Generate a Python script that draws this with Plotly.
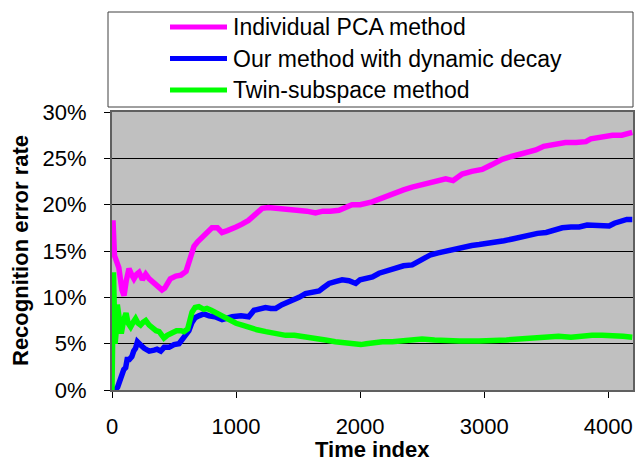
import plotly.graph_objects as go

# ---- data -------------------------------------------------------------
series_names = [
    "Individual PCA method",
    "Our method with dynamic decay",
    "Twin-subspace method",
]
series_colors = ["#FF00FF", "#0000FF", "#00FF00"]

pca_x = [0, 8, 20, 35, 55, 80, 97, 115, 137, 160, 177, 200, 218, 245, 272, 300,
         326, 363, 403, 425, 444, 470, 515, 556, 597, 620, 637, 661, 690, 715,
         768, 806, 850, 887, 930, 968, 1000, 1048, 1100, 1160, 1210, 1260, 1345,
         1420, 1508, 1570, 1640, 1700, 1760, 1830, 1935, 2000, 2097, 2153, 2200,
         2290, 2350, 2420, 2490, 2556, 2620, 2690, 2750, 2823, 2900, 2984, 3060,
         3145, 3220, 3282, 3350, 3417, 3480, 3550, 3655, 3740, 3820, 3860, 3900,
         3970, 4035, 4110, 4194]
pca_y = [16.5, 18.3, 14.5, 13.8, 13.2, 10.8, 10.2, 11.8, 13.1, 12.4, 12.0, 12.5,
         12.7, 11.9, 12.5, 12.0, 11.7, 11.3, 10.8, 11.0, 11.5, 12.0, 12.3, 12.4,
         12.8, 13.8, 14.5, 15.5, 16.0, 16.3, 16.9, 17.5, 17.5, 17.0, 17.2, 17.5,
         17.6, 17.9, 18.3, 19.0, 19.6, 19.7, 19.6, 19.5, 19.4, 19.3, 19.1, 19.3,
         19.3, 19.4, 20.0, 20.0, 20.3, 20.6, 20.9, 21.4, 21.6, 21.9, 22.1, 22.4,
         22.6, 22.8, 22.6, 23.3, 23.6, 23.8, 24.3, 24.9, 25.2, 25.4, 25.6, 25.9,
         26.3, 26.5, 26.7, 26.7, 26.8, 27.1, 27.2, 27.4, 27.5, 27.5, 27.8]

decay_x = [10, 25, 45, 60, 70, 95, 110, 122, 140, 160, 175, 190, 205, 218, 235,
           260, 300, 340, 363, 393, 420, 460, 500, 540, 580, 620, 645, 670, 700,
           740, 782, 830, 887, 930, 968, 1040, 1102, 1145, 1190, 1237, 1280, 1320,
           1370, 1425, 1470, 1508, 1560, 1613, 1670, 1700, 1750, 1800, 1855, 1910,
           1965, 2000, 2046, 2100, 2153, 2200, 2290, 2350, 2420, 2490, 2530, 2570,
           2630, 2690, 2760, 2823, 2900, 2960, 3030, 3097, 3160, 3228, 3300, 3363,
           3430, 3500, 3560, 3630, 3700, 3766, 3830, 3900, 3960, 4008, 4050, 4090,
           4150, 4194]
decay_y = [0.0, 0.0, 0.3, 1.0, 1.5, 2.2, 2.4, 3.3, 3.3, 3.6, 4.2, 4.5, 5.2, 5.1,
           4.8, 4.5, 4.2, 4.3, 4.4, 4.2, 4.6, 4.6, 4.9, 5.0, 5.6, 6.4, 7.3, 7.8,
           8.0, 8.2, 8.0, 7.9, 7.6, 7.8, 7.9, 8.0, 7.9, 8.6, 8.8, 8.9, 8.8, 8.8,
           9.2, 9.5, 9.8, 10.0, 10.4, 10.6, 10.7, 11.0, 11.5, 11.7, 11.9, 11.8,
           11.5, 11.9, 12.1, 12.2, 12.6, 12.8, 13.3, 13.4, 13.5, 14.0, 14.4, 14.6,
           14.8, 15.0, 15.1, 15.3, 15.6, 15.7, 15.8, 15.9, 16.1, 16.3, 16.5, 16.8,
           16.9, 17.0, 17.3, 17.5, 17.6, 17.6, 17.8, 17.8, 17.7, 17.7, 18.0, 18.2,
           18.4, 18.4]

twin_x = [0, 6, 12, 18, 25, 32, 43, 60, 75, 95, 113, 130, 150, 170, 190, 210,
          230, 250, 272, 300, 326, 355, 380, 405, 419, 445, 470, 520, 556, 580,
          610, 630, 645, 670, 700, 740, 765, 800, 840, 887, 940, 1000, 1050, 1105,
          1170, 1240, 1320, 1400, 1470, 1535, 1620, 1720, 1800, 1855, 1930, 2005,
          2050, 2097, 2180, 2260, 2315, 2400, 2500, 2600, 2690, 2800, 2960, 3080,
          3180, 3280, 3363, 3430, 3500, 3600, 3700, 3766, 3870, 3950, 4035, 4120,
          4194]
twin_y = [0.0, 6.0, 12.7, 9.0, 5.0, 6.0, 9.2, 7.0, 6.1, 7.6, 8.3, 7.2, 6.8, 7.3,
          7.7, 7.2, 7.0, 7.3, 7.5, 7.0, 6.7, 6.4, 6.3, 5.8, 5.6, 5.9, 6.1, 6.4,
          6.4, 6.3, 6.6, 7.4, 8.4, 8.9, 9.0, 8.7, 8.8, 8.6, 8.3, 7.9, 7.5, 7.2,
          7.0, 6.7, 6.5, 6.3, 6.1, 5.9, 5.9, 5.8, 5.7, 5.4, 5.2, 5.1, 5.0, 4.9,
          5.0, 5.1, 5.2, 5.2, 5.3, 5.4, 5.5, 5.4, 5.3, 5.3, 5.3, 5.3, 5.4, 5.5,
          5.6, 5.7, 5.8, 5.8, 5.7, 5.8, 5.9, 5.9, 5.9, 5.8, 5.7]

x_ticks = [0, 1000, 2000, 3000, 4000]
y_ticks = [0, 0.05, 0.10, 0.15, 0.20, 0.25, 0.30]
x_title = "Time index"
y_title = "Recognition error rate"

# ---- figure geometry (pixels) ----------------------------------------
W, H = 635, 463
PL, PR, PT, PB = 112, 633, 112, 390   # plot area edges
FONT = "Arial, Liberation Sans, sans-serif"
TICK_SIZE = 22
TITLE_SIZE = 22
LEGEND_SIZE = 23


def px_to_paper(px, py):
    return (px - PL) / (PR - PL), (PB - py) / (PB - PT)


fig = go.Figure()
for name, color, xs, ys in zip(
    series_names, series_colors,
    [pca_x, decay_x, twin_x], [pca_y, decay_y, twin_y],
):
    fig.add_trace(go.Scatter(
        x=xs, y=[v / 100 for v in ys], mode="lines", name=name,
        line=dict(color=color, width=5.5), showlegend=False,
    ))

# ---- legend box drawn above the plot ----------------------------------
shapes, annotations = [], []
bx0, by0 = px_to_paper(108, 107)
bx1, by1 = px_to_paper(633, 12)
shapes.append(dict(type="rect", xref="paper", yref="paper",
                   x0=bx0, y0=by0, x1=bx1, y1=by1,
                   line=dict(color="#404040", width=1), fillcolor="white"))
for i, (name, color) in enumerate(zip(series_names, series_colors)):
    row_y = 27 + i * 31.5
    lx0, ly = px_to_paper(170, row_y)
    lx1, _ = px_to_paper(227, row_y)
    tx, _ = px_to_paper(231, row_y)
    shapes.append(dict(type="line", xref="paper", yref="paper",
                       x0=lx0, x1=lx1, y0=ly, y1=ly,
                       line=dict(color=color, width=5)))
    annotations.append(dict(xref="paper", yref="paper", x=tx, y=ly,
                            text=name, showarrow=False, xanchor="left",
                            yanchor="middle",
                            font=dict(family=FONT, size=LEGEND_SIZE,
                                      color="black")))

# ---- axis titles --------------------------------------------------------
xt_x, xt_y = px_to_paper((PL + PR) / 2, 449)
annotations.append(dict(xref="paper", yref="paper", x=xt_x, y=xt_y,
                        text=f"<b>{x_title}</b>", showarrow=False,
                        xanchor="center", yanchor="middle",
                        font=dict(family=FONT, size=TITLE_SIZE, color="black")))
yt_x, yt_y = px_to_paper(20, (PT + PB) / 2)
annotations.append(dict(xref="paper", yref="paper", x=yt_x, y=yt_y,
                        text=f"<b>{y_title}</b>", showarrow=False,
                        textangle=-90, xanchor="center", yanchor="middle",
                        font=dict(family=FONT, size=TITLE_SIZE, color="black")))

fig.update_layout(
    width=W, height=H,
    margin=dict(l=PL, r=W - PR, t=PT, b=H - PB, pad=0),
    paper_bgcolor="white",
    plot_bgcolor="#C0C0C0",
    font=dict(family=FONT, size=TICK_SIZE, color="black"),
    shapes=shapes,
    annotations=annotations,
    xaxis=dict(
        range=[0, 4200], tickvals=x_ticks, ticks="outside", ticklen=6,
        tickcolor="black", showgrid=False, zeroline=False, automargin=False,
        showline=True, linecolor="#606060", linewidth=2, mirror=True,
        tickfont=dict(size=TICK_SIZE), ticklabelstandoff=10,
    ),
    yaxis=dict(
        range=[0, 0.3], tickvals=y_ticks, tickformat=".0%", ticks="outside",
        ticklen=6, tickcolor="black", showgrid=True, gridcolor="black",
        gridwidth=1, zeroline=False, automargin=False,
        showline=True, linecolor="#606060", linewidth=2, mirror=True,
        tickfont=dict(size=TICK_SIZE), ticklabelstandoff=13,
    ),
)

fig.write_html("out.html")
